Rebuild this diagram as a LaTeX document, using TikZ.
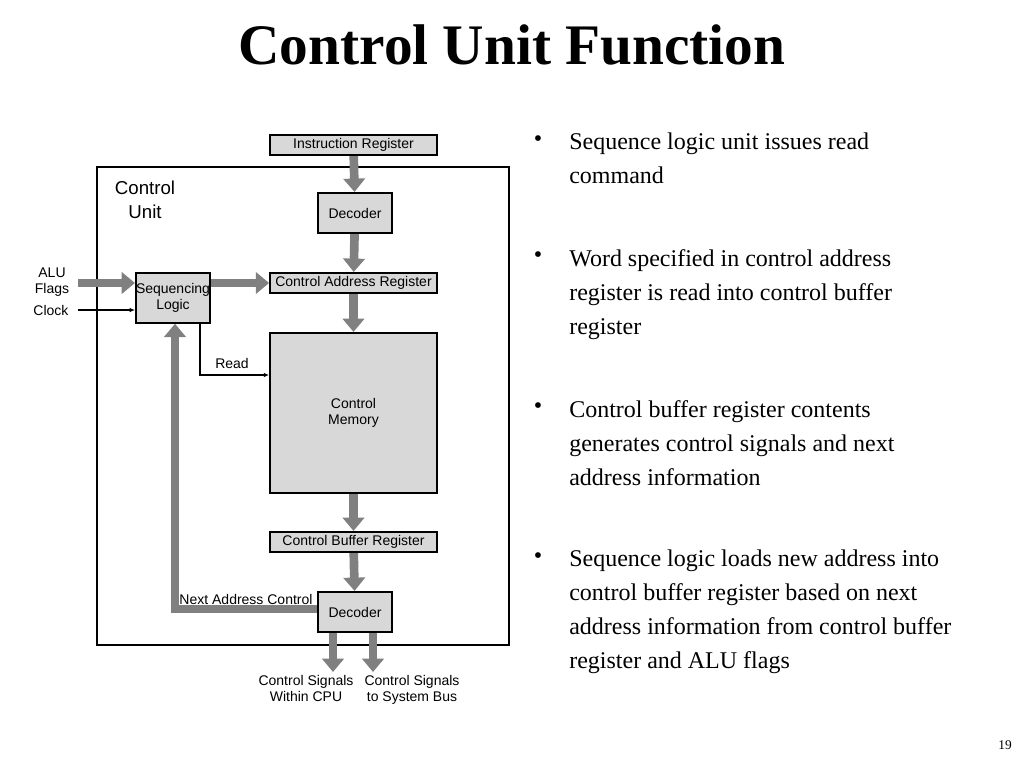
\documentclass[tikz,border=0pt]{standalone}
\usepackage{fontspec}
\setmainfont{Liberation Serif}
\newfontfamily\dsans{Liberation Sans}
\usetikzlibrary{arrows.meta}
\definecolor{boxg}{HTML}{D8D8D8}
\definecolor{arrg}{HTML}{808080}
\begin{document}
\begin{tikzpicture}[x=0.75pt,y=-0.75pt,
  box/.style={draw=black,line width=1.6pt,fill=boxg,inner sep=0pt,font=\dsans\fontsize{10.5}{11.5}\selectfont,align=center},
  fat/.style={draw=arrg,line width=6.5pt,-{Triangle[length=10pt,width=16pt]},arrg},
  thin/.style={draw=black,line width=0.9pt,-{Latex[length=4pt,width=3.5pt]}},
  lbl/.style={font=\dsans\fontsize{10.5}{12}\selectfont,align=center,inner sep=0pt},
  bul/.style={font=\fontsize{18}{25.5}\selectfont,align=flush left,anchor=north west,inner sep=0pt,text width=292pt}]
\useasboundingbox (0,0) rectangle (1024,768);
\node[font=\bfseries\fontsize{43}{46}\selectfont] (title) at (512,45) {Control Unit Function};
\draw[line width=2.2pt] (97,167) rectangle (509,645);
\node[font=\dsans\fontsize{14}{18}\selectfont,align=center] (cu) at (145,200) {Control\\Unit};
\node[box,minimum width=125pt,minimum height=15pt] (ir) at (353.5,145) {Instruction Register};
\node[box,minimum width=55pt,minimum height=30pt] (dec1) at (355,213) {Decoder};
\node[box,minimum width=125pt,minimum height=15pt] (car) at (353.5,283) {Control Address Register};
\node[box,minimum width=54pt,minimum height=37pt] (seq) at (173,298) {Sequencing\\Logic};
\node[box,minimum width=125pt,minimum height=120pt] (cm) at (353.5,413) {Control\\Memory};
\node[box,minimum width=125pt,minimum height=15pt] (cbr) at (353.5,542) {Control Buffer Register};
\node[box,minimum width=55pt,minimum height=30pt] (dec2) at (355,612) {Decoder};
\draw[fat] (ir) -- (dec1);
\draw[fat] (dec1) -- (car);
\draw[fat] (car) -- (cm);
\draw[fat] (cm) -- (cbr);
\draw[fat] (cbr) -- (dec2);
\draw[fat] (seq.east|-car) -- (car.west);
\coordinate (alu) at (78,283);
\coordinate (clk) at (78,310);
\draw[fat] (alu) -- (alu-|seq.west);
\draw[thin] (clk) -- (clk-|seq.west);
\node[lbl] (alul) at (52,282) {ALU\\Flags};
\node[lbl] (clkl) at (51,310) {Clock};
\coordinate (rd) at (200,375);
\draw[thin] (seq.south-|rd) -- (rd) -- (rd-|cm.west);
\node[lbl] (readl) at (232,363) {Read};
\coordinate (fb) at (175,609);
\draw[fat] (dec2.west|-fb) -- (fb) -- (seq.south-|fb);
\node[lbl] (nac) at (246,599) {Next Address Control};
\coordinate (o1) at (333,672);
\coordinate (o2) at (373,672);
\draw[fat] (dec2.south-|o1) -- (o1);
\draw[fat] (dec2.south-|o2) -- (o2);
\node[lbl,anchor=north] (o1l) at (306,675) {Control Signals\\Within CPU};
\node[lbl,anchor=north] (o2l) at (412,675) {Control Signals\\to System Bus};
\foreach \y/\t [count=\i] in {133/{Sequence logic unit issues read command},
  249/{Word specified in control address register is read into control buffer register},
  400/{Control buffer register contents generates control signals and next address information},
  550/{Sequence logic loads new address into control buffer register based on next address information from control buffer register and ALU flags}}{
  \node[font=\fontsize{18}{20}\selectfont,anchor=north,inner sep=0pt] (b\i) at (538,\y+2) {\textbullet};
  \node[bul] (t\i) at (569,\y) {\hyphenpenalty=10000\t};
}
\node[font=\fontsize{10}{12}\selectfont] (pg) at (1005,745) {19};
\end{tikzpicture}
\end{document}
